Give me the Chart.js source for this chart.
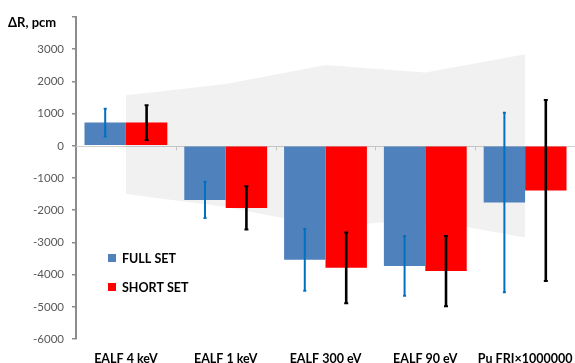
<!DOCTYPE html>
<html>
<head>
<meta charset="utf-8">
<script src="https://cdn.jsdelivr.net/npm/chart.js@4.4.1/dist/chart.umd.min.js"></script>
<style>
  html, body { margin: 0; padding: 0; background: #ffffff; overflow: hidden; }
  #wrap { width: 575px; height: 363px; position: relative; }
</style>
</head>
<body>
<div id="wrap"><canvas id="c" width="575" height="363"></canvas></div>
<script>
// Reactivity effect per spectrum index (pcm)
const categories = ['EALF 4 keV', 'EALF 1 keV', 'EALF 300 eV', 'EALF 90 eV', 'Pu FRI×1000000'];
const fullSet    = [720, -1680, -3540, -3730, -1760];
const shortSet   = [720, -1930, -3790, -3890, -1390];
// One-sided uncertainties drawn as error bars
const fullErr    = [430, 560, 960, 930, 2790];
const shortErr   = [540, 670, 1100, 1090, 2810];
// Uncertainty corridor (upper and lower bounds)
const bandHigh   = [1570, 1920, 2510, 2280, 2840];
const bandLow    = [-1500, -1900, -2500, -2300, -2850];
// Value axis
const yMin = -6000, yMax = 4000, yStep = 1000;
const yTitle = 'ΔR, pcm';
const seriesNames = ['FULL SET', 'SHORT SET'];

const BLUE = '#4f81bd';
const RED = '#ff0000';
const ERR_BLUE = '#0070c0';
const ERR_BLACK = '#000000';
const FONT = 'Lato, "Open Sans", "Liberation Sans", sans-serif';

// Horizontal zero line with small category separators
const zeroAxis = {
  id: 'zeroAxis',
  beforeDatasetsDraw(chart) {
    const { ctx, chartArea, scales } = chart;
    const y0 = Math.round(scales.y.getPixelForValue(0)) + 0.5;
    const half = (chartArea.right - chartArea.left) / categories.length / 2;
    ctx.save();
    ctx.strokeStyle = '#d0d0d0';
    ctx.lineWidth = 1;
    ctx.beginPath();
    ctx.moveTo(chartArea.left, y0);
    ctx.lineTo(chartArea.right, y0);
    for (let i = 0; i < categories.length; i++) {
      const xb = Math.round(scales.x.getPixelForValue(i) + half) + 0.5;
      ctx.moveTo(xb, y0);
      ctx.lineTo(xb, y0 + 4);
    }
    ctx.stroke();
    ctx.restore();
  }
};

// Vertical error bars centred on each bar
const errorBars = {
  id: 'errorBars',
  afterDatasetsDraw(chart) {
    const { ctx, scales } = chart;
    const specs = [
      { ds: 0, values: fullSet, errs: fullErr, color: ERR_BLUE, width: 2, cap: 3 },
      { ds: 1, values: shortSet, errs: shortErr, color: ERR_BLACK, width: 2.6, cap: 4 }
    ];
    ctx.save();
    specs.forEach(s => {
      const meta = chart.getDatasetMeta(s.ds);
      meta.data.forEach((bar, i) => {
        const x = bar.x;
        const yTop = scales.y.getPixelForValue(s.values[i] + s.errs[i]);
        const yBot = scales.y.getPixelForValue(s.values[i] - s.errs[i]);
        ctx.strokeStyle = s.color;
        ctx.lineWidth = s.width;
        ctx.beginPath();
        ctx.moveTo(x, yTop);
        ctx.lineTo(x, yBot);
        ctx.stroke();
        ctx.lineWidth = 2;
        ctx.beginPath();
        ctx.moveTo(x - s.cap / 2, yTop);
        ctx.lineTo(x + s.cap / 2, yTop);
        ctx.moveTo(x - s.cap / 2, yBot);
        ctx.lineTo(x + s.cap / 2, yBot);
        ctx.stroke();
      });
    });
    ctx.restore();
  }
};

// Axis title and in-plot legend
const decorations = {
  id: 'decorations',
  afterDraw(chart) {
    const { ctx } = chart;
    ctx.save();
    ctx.fillStyle = '#000000';
    ctx.font = `bold 13px ${FONT}`;
    ctx.textAlign = 'left';
    ctx.textBaseline = 'alphabetic';
    ctx.fillText(yTitle, 8, 27);

    const colors = [BLUE, RED];
    const rows = [258, 287];
    ctx.font = `bold 12.5px ${FONT}`;
    ctx.textBaseline = 'middle';
    seriesNames.forEach((name, i) => {
      ctx.fillStyle = colors[i];
      ctx.fillRect(108, rows[i] - 4, 8, 8);
      ctx.fillStyle = '#000000';
      ctx.fillText(name, 122, rows[i] + 0.5);
    });
    ctx.restore();
  }
};

new Chart(document.getElementById('c'), {
  data: {
    labels: categories,
    datasets: [
      {
        type: 'bar', label: seriesNames[0], data: fullSet,
        backgroundColor: BLUE, borderWidth: 0, order: 1,
        categoryPercentage: 0.83, barPercentage: 1.0
      },
      {
        type: 'bar', label: seriesNames[1], data: shortSet,
        backgroundColor: RED, borderWidth: 0, order: 1,
        categoryPercentage: 0.83, barPercentage: 1.0
      },
      {
        type: 'line', label: 'band-high', data: bandHigh,
        borderColor: 'rgba(0,0,0,0)', borderWidth: 0, pointRadius: 0,
        backgroundColor: 'rgba(0,0,0,0.055)', fill: '+1', tension: 0, order: 2
      },
      {
        type: 'line', label: 'band-low', data: bandLow,
        borderColor: 'rgba(0,0,0,0)', borderWidth: 0, pointRadius: 0,
        fill: false, tension: 0, order: 2
      }
    ]
  },
  options: {
    responsive: false,
    animation: false,
    events: [],
    layout: { padding: { top: 17, right: 0, left: 0, bottom: 0 } },
    plugins: { legend: { display: false }, tooltip: { enabled: false } },
    scales: {
      x: {
        type: 'category',
        offset: true,
        grid: { display: false, drawTicks: false },
        border: { display: false },
        ticks: {
          autoSkip: false, maxRotation: 0, padding: 12,
          color: '#000000', font: { family: FONT, size: 12.5, weight: 'bold' }
        },
        afterFit(s) { s.height = 24; s.paddingLeft = 0; s.paddingRight = 0; }
      },
      y: {
        min: yMin, max: yMax,
        ticks: {
          stepSize: yStep, padding: 8, color: '#595959',
          font: { family: FONT, size: 11.5 },
          callback: (v) => (v === yMax ? '' : String(v))
        },
        grid: { drawOnChartArea: false, drawTicks: true, tickLength: 4, color: '#8c8c8c', lineWidth: 1.5 },
        border: { display: true, color: '#8c8c8c', width: 2 },
        afterFit(s) { s.width = 76; }
      }
    }
  },
  plugins: [zeroAxis, errorBars, decorations]
});
</script>
</body>
</html>
